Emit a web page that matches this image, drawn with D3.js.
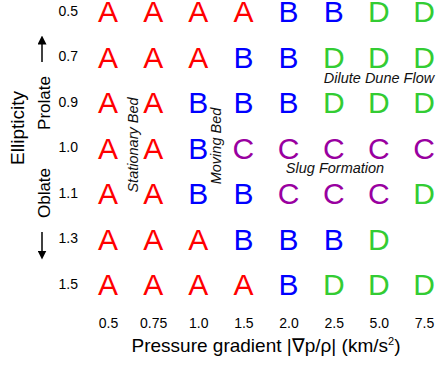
<!DOCTYPE html>
<html>
<head>
<meta charset="utf-8">
<script src="https://cdn.jsdelivr.net/npm/d3@7"></script>
<style>
  body { margin: 0; background: #fff; }
  text { font-family: "Liberation Sans", Arial, sans-serif; }
</style>
</head>
<body>
<div id="chart"></div>
<script>
const width = 438, height = 365;

// pressure gradient columns (km/s^2) and ellipticity rows
const gradients = ["0.5", "0.75", "1.0", "1.5", "2.0", "2.5", "5.0", "7.5"];
const ellipticities = ["0.5", "0.7", "0.9", "1.0", "1.1", "1.3", "1.5"];

// flow regime per row, one letter per gradient column ("" = not run)
const regimes = [
    ["A", "A", "A", "A", "B", "B", "D", "D"],
    ["A", "A", "A", "B", "B", "D", "D", "D"],
    ["A", "A", "B", "B", "B", "D", "D", "D"],
    ["A", "A", "B", "C", "C", "C", "C", "C"],
    ["A", "A", "B", "B", "C", "C", "C", "D"],
    ["A", "A", "A", "B", "B", "B", "D", ""],
    ["A", "A", "A", "A", "B", "D", "D", "D"]
];

const regimeColor = { A: "#ff0000", B: "#0000ff", C: "#9900a0", D: "#33cc33" };

let cells = [];
regimes.forEach((row, i) => {
    row.forEach((r, j) => {
        if (r) cells.push({ e: ellipticities[i], g: gradients[j], r: r });
    });
});

const svg = d3.select("#chart")
    .append("svg")
    .attr("width", width)
    .attr("height", height);

const x = d3.scalePoint()
    .domain(gradients)
    .range([108, 424]);

const y = d3.scalePoint()
    .domain(ellipticities)
    .range([11, 284]);

// axes, no domain line or ticks
const yAxis = svg.append("g")
    .attr("transform", "translate(81,0)")
    .call(d3.axisLeft(y).tickSize(0).tickPadding(3));
yAxis.select(".domain").remove();
yAxis.selectAll("text")
    .style("font-size", "14px")
    .style("font-family", "'Liberation Sans', Arial, sans-serif")
    .attr("fill", "#000");

const xAxis = svg.append("g")
    .attr("transform", "translate(0,318)")
    .call(d3.axisBottom(x).tickSize(0).tickPadding(0));
xAxis.select(".domain").remove();
xAxis.selectAll("text")
    .style("font-size", "14px")
    .style("font-family", "'Liberation Sans', Arial, sans-serif")
    .attr("fill", "#000");

// regime letters
svg.selectAll(".cell")
    .data(cells)
    .join("text")
    .attr("class", "cell")
    .attr("x", d => x(d.g))
    .attr("y", d => y(d.e) + 11)
    .attr("text-anchor", "middle")
    .style("font-size", "30px")
    .attr("fill", d => regimeColor[d.r])
    .text(d => d.r);

// axis titles
svg.append("text")
    .attr("x", 266)
    .attr("y", 352)
    .attr("text-anchor", "middle")
    .style("font-size", "19px")
    .html("Pressure gradient |∇p/ρ| (km/s<tspan dy='-7' style='font-size:11px'>2</tspan><tspan dy='7'>)</tspan>");

svg.append("text")
    .attr("transform", "translate(24,128) rotate(-90)")
    .attr("text-anchor", "middle")
    .style("font-size", "19px")
    .text("Ellipticity");

svg.append("text")
    .attr("transform", "translate(50,103) rotate(-90)")
    .attr("text-anchor", "middle")
    .style("font-size", "17px")
    .text("Prolate");

svg.append("text")
    .attr("transform", "translate(50,193) rotate(-90)")
    .attr("text-anchor", "middle")
    .style("font-size", "17px")
    .text("Oblate");

// arrows
svg.append("defs").append("marker")
    .attr("id", "head")
    .attr("viewBox", "0 0 10 10")
    .attr("refX", 5).attr("refY", 5)
    .attr("markerWidth", 6).attr("markerHeight", 6)
    .attr("orient", "auto")
    .append("path")
    .attr("d", "M0,0L10,5L0,10z")
    .attr("fill", "#000");

svg.append("line")
    .attr("x1", 42).attr("y1", 62).attr("x2", 42).attr("y2", 40)
    .attr("stroke", "#000").attr("stroke-width", 1.5)
    .attr("marker-end", "url(#head)");

svg.append("line")
    .attr("x1", 42).attr("y1", 232).attr("x2", 42).attr("y2", 255)
    .attr("stroke", "#000").attr("stroke-width", 1.5)
    .attr("marker-end", "url(#head)");

// regime annotations
const italic = (sel) => sel.style("font-style", "italic").style("font-size", "14.5px").attr("fill", "#111");

svg.append("text")
    .attr("transform", "translate(138,145) rotate(-90)")
    .attr("text-anchor", "middle")
    .call(italic)
    .text("Stationary Bed");

svg.append("text")
    .attr("transform", "translate(221,146) rotate(-90)")
    .attr("text-anchor", "middle")
    .call(italic)
    .text("Moving Bed");

svg.append("text")
    .attr("x", 379)
    .attr("y", 83)
    .attr("text-anchor", "middle")
    .call(italic)
    .text("Dilute Dune Flow");

svg.append("text")
    .attr("x", 335)
    .attr("y", 173)
    .attr("text-anchor", "middle")
    .call(italic)
    .text("Slug Formation");
</script>
</body>
</html>
